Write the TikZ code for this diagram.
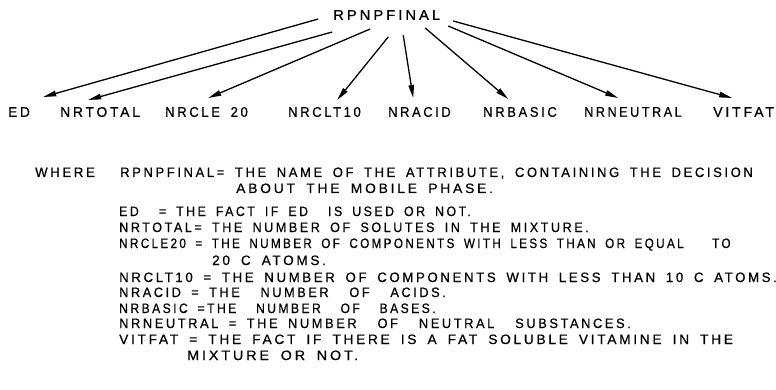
\documentclass[tikz,border=0pt]{standalone}
\usepackage{fontspec}
\usepackage{graphicx}
\setmainfont{Liberation Sans}[LetterSpace=20,WordSpace=1.7,FakeBold=0.6]
\usetikzlibrary{arrows.meta}

% set a line of lettering to an exact width, keeping its height
\newcommand\fitline[2]{\resizebox{#1pt}{\height}{#2\kern-.20em}}

\tikzset{
  lbl/.style={inner sep=0pt, anchor=west, font=\fontsize{14}{16}\selectfont},
  txt/.style={inner sep=0pt, anchor=base west, font=\fontsize{13.6}{16}\selectfont},
  arr/.style={-{Triangle[length=13pt,width=5.5pt]}, line width=1.3pt},
}

\begin{document}
\begin{tikzpicture}[x=1pt,y=-1pt]
\useasboundingbox (0,0) rectangle (776,390);

% root attribute
\node[lbl] (root) at (333,15) {\fitline{104}{RPNPFINAL}};

% attributes it depends on
\node[lbl] (ed)        at (8,112)   {\fitline{19}{ED}};
\node[lbl] (nrtotal)   at (60,112)  {\fitline{77}{NRTOTAL}};
\node[lbl] (nrcle)     at (165,112) {\fitline{80}{NRCLE 20}};
\node[lbl] (nrclt)     at (288,112) {\fitline{70}{NRCLT10}};
\node[lbl] (nracid)    at (388,112) {\fitline{60}{NRACID}};
\node[lbl] (nrbasic)   at (483,112) {\fitline{71}{NRBASIC}};
\node[lbl] (nrneutral) at (584,112) {\fitline{95}{NRNEUTRAL}};
\node[lbl] (vitfat)    at (713,112) {\fitline{58}{VITFAT}};

% arrows from the root to each attribute
\draw[arr] ([shift={(-67,4)}]root.center)  -- ([shift={(25.5,-15)}]ed.center);
\draw[arr] ([shift={(-53,17)}]root.center) -- ([shift={(-10.5,-12)}]nrtotal.center);
\draw[arr] ([shift={(-15,14)}]root.center) -- ([shift={(3,-14)}]nrcle.center);
\draw[arr] ([shift={(3,22)}]root.center)   -- ([shift={(14,-12)}]nrclt.center);
\draw[arr] ([shift={(18,20)}]root.center)  -- ([shift={(-5,-14)}]nracid.center);
\draw[arr] ([shift={(40,13)}]root.center)  -- ([shift={(-10.5,-13)}]nrbasic.center);
\draw[arr] ([shift={(63,11)}]root.center)  -- ([shift={(-13.5,-14)}]nrneutral.center);
\draw[arr] ([shift={(68,6)}]root.center)   -- ([shift={(-10,-14)}]vitfat.center);

% legend
\node[txt] (where) at (35,177)  {\fitline{57}{WHERE}};
\node[txt] (l1)  at (120,177) {\fitline{630}{RPNPFINAL= THE NAME OF THE ATTRIBUTE, CONTAINING THE DECISION}};
\node[txt] (l1b) at (236,193) {\fitline{254}{ABOUT THE MOBILE PHASE.}};
\node[txt] (l2)  at (119,216) {\fitline{349}{ED \ = THE FACT IF ED \ IS USED OR NOT.}};
\node[txt] (l3)  at (119,232) {\fitline{467}{NRTOTAL= THE NUMBER OF SOLUTES IN THE MIXTURE.}};
\node[txt] (l4)  at (119,248) {\fitline{609}{NRCLE20 = THE NUMBER OF COMPONENTS WITH LESS THAN OR EQUAL \ \ TO}};
\node[txt] (l4b) at (212,265) {\fitline{111}{20 C ATOMS.}};
\node[txt] (l5)  at (119,282) {\fitline{655}{NRCLT10 = THE NUMBER OF COMPONENTS WITH LESS THAN 10 C ATOMS.}};
\node[txt] (l6)  at (119,297) {\fitline{324}{NRACID = THE \ NUMBER \ OF \ ACIDS.}};
\node[txt] (l7)  at (119,313) {\fitline{314}{NRBASIC =THE \ NUMBER \ OF \ BASES.}};
\node[txt] (l8)  at (119,328) {\fitline{509}{NRNEUTRAL = THE NUMBER \ OF \ NEUTRAL \ SUBSTANCES.}};
\node[txt] (l9)  at (119,344) {\fitline{611}{VITFAT = THE FACT IF THERE IS A FAT SOLUBLE VITAMINE IN THE}};
\node[txt] (l9b) at (187,360) {\fitline{168}{MIXTURE OR NOT.}};
\end{tikzpicture}
\end{document}
